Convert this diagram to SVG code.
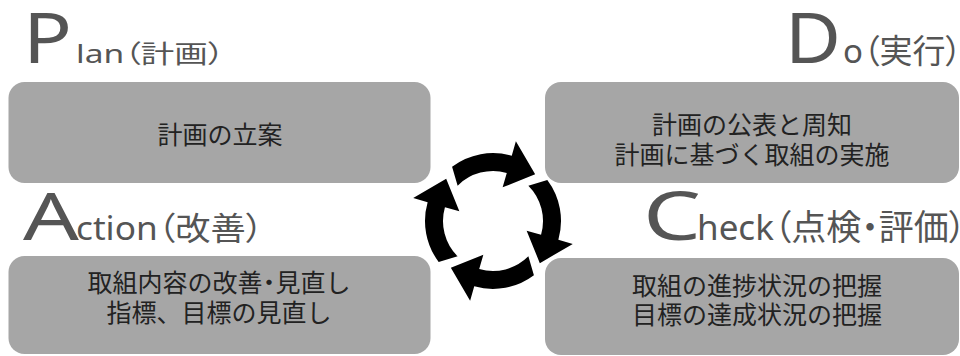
<svg xmlns="http://www.w3.org/2000/svg" xmlns:xlink="http://www.w3.org/1999/xlink" width="960" height="356" viewBox="0 0 960 356">
<style>
.box{fill:#a6a6a6;}
.bt{font-family:"Noto Sans CJK JP","Noto Sans",sans-serif;font-size:25px;fill:#222;text-anchor:middle;}
.big{font-family:"Noto Sans","Noto Sans CJK JP",sans-serif;fill:#555;}
.sub{font-family:"Noto Sans","Noto Sans CJK JP",sans-serif;fill:#555;font-feature-settings:"palt";}
.arr{fill:#000;}
</style>
<defs>
<path id="arrow" d="M35.36,-35.36 L54.31,-40.92 A68,68 0 0 1 65.37,18.74 L79.78,22.88 L46.82,42.16 L33.64,9.65 L48.06,13.78 A50,50 0 0 0 35.36,-35.36 Z"/>
</defs>
<g id="plan">
<text class="big" x="23" y="63" font-size="70" textLength="49" lengthAdjust="spacingAndGlyphs">P</text>
<text class="sub" transform="translate(76,63) scale(1.34,1)" font-size="25">lan（計画）</text>
<rect class="box" x="8.5" y="82" width="422" height="101" rx="16"/>
<text class="bt" x="220" y="144">計画の立案</text>
</g>
<g id="do">
<text class="big" x="785" y="63" font-size="70" textLength="56" lengthAdjust="spacingAndGlyphs">D</text>
<text class="sub" transform="translate(843,63)" font-size="33">o（実行）</text>
<rect class="box" x="545" y="82" width="414" height="101" rx="16"/>
<text class="bt" x="752" y="134">計画の公表と周知</text>
<text class="bt" x="752" y="164">計画に基づく取組の実施</text>
</g>
<g id="action">
<text class="big" x="23" y="240" font-size="66" textLength="56" lengthAdjust="spacingAndGlyphs">A</text>
<text class="sub" transform="translate(76,240) scale(1.1,1)" font-size="32">ction（改善）</text>
<rect class="box" x="8.5" y="256" width="422" height="98" rx="16"/>
<text class="bt" x="219" y="292">取組内容の改善<tspan dx="-6">・</tspan><tspan dx="-6">見直し</tspan></text>
<text class="bt" x="219" y="322">指標、目標の見直し</text>
</g>
<g id="check">
<text class="big" x="643" y="240" font-size="68" textLength="58" lengthAdjust="spacingAndGlyphs">C</text>
<text class="sub" transform="translate(697,240)" font-size="35">heck（点検・評価）</text>
<rect class="box" x="545" y="258" width="414" height="97" rx="16"/>
<text class="bt" x="757" y="295">取組の進捗状況の把握</text>
<text class="bt" x="757" y="324">目標の達成状況の把握</text>
</g>
<g id="connectors" transform="translate(493,221)">
<use xlink:href="#arrow" class="arr"/>
<use xlink:href="#arrow" class="arr" transform="rotate(90)"/>
<use xlink:href="#arrow" class="arr" transform="rotate(180)"/>
<use xlink:href="#arrow" class="arr" transform="rotate(270)"/>
</g>
</svg>
